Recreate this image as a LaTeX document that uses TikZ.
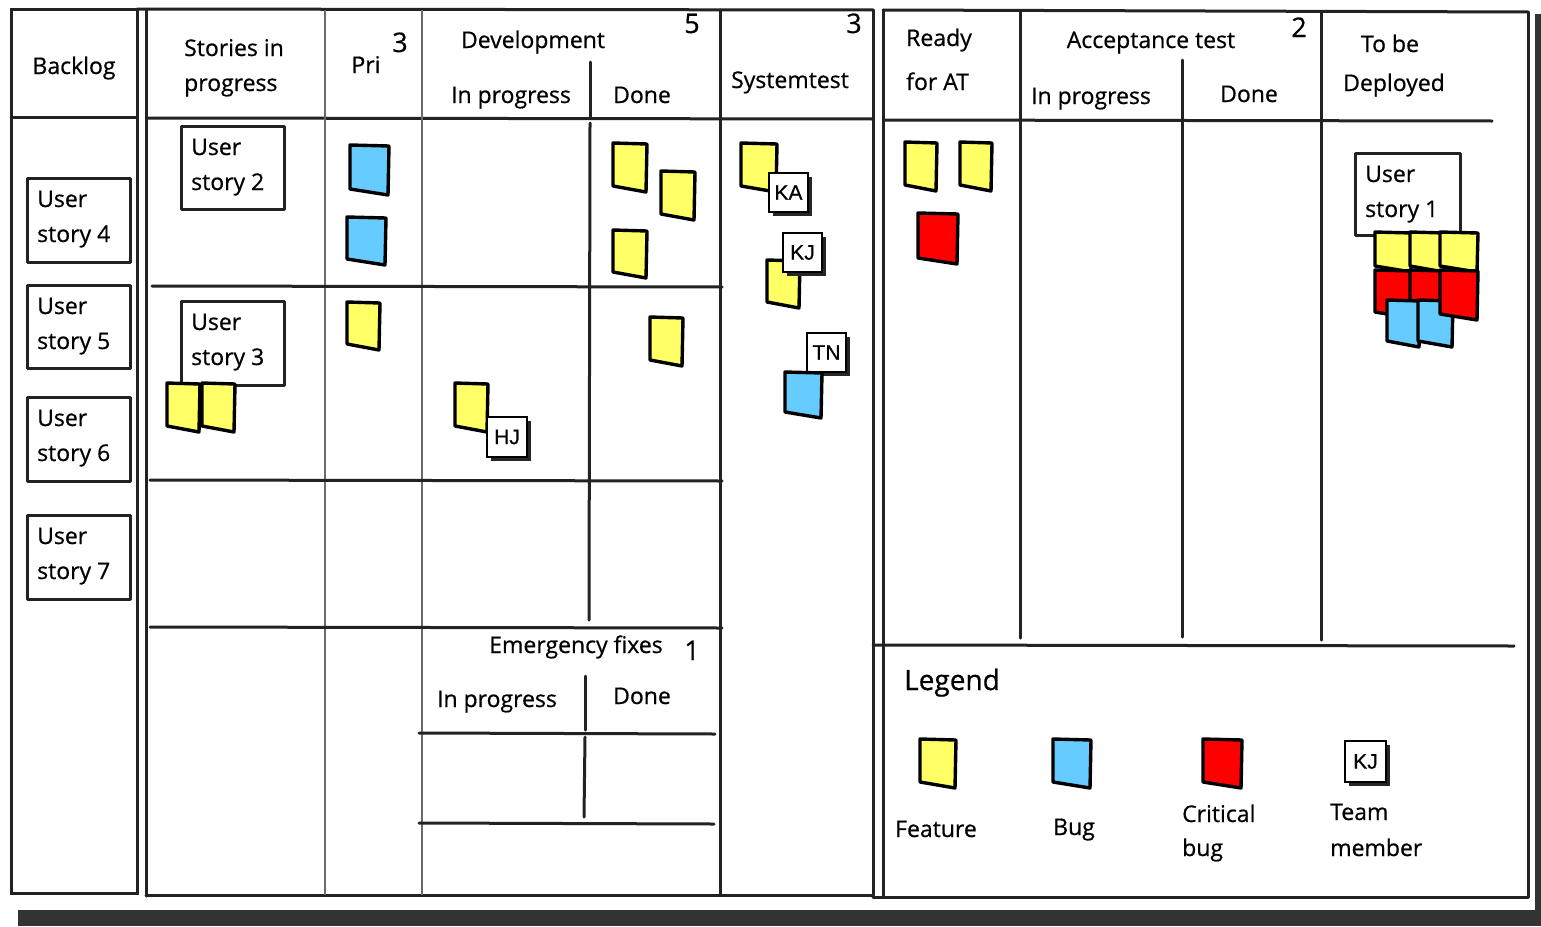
\documentclass[tikz,border=0pt]{standalone}
\usepackage{fontspec}
\setmainfont{Open Sans}[FakeBold=0.6]
\newfontfamily\tagfont{Liberation Sans}[FakeBold=0.5]
\definecolor{ink}{HTML}{222222}
\definecolor{thin}{HTML}{6A6A6A}
\definecolor{stYellow}{HTML}{FFFF66}
\definecolor{stBlue}{HTML}{66CCFF}
\definecolor{stRed}{HTML}{FF0000}
\definecolor{barc}{HTML}{333333}
\newcommand\stickynote[5]{%
  \filldraw[stickyline, fill=#5] (#1,#2) -- (#3,#2+1) -- (#3-1,#4) -- (#1,#4-6) -- cycle;}
\newcommand\member[6]{%
  \fill[black!85] (#3+4,#4+4) rectangle (#5+4,#6+4);
  \filldraw[fill=white, draw=black, line width=2.4pt] (#3,#4) rectangle (#5,#6);
  \node[tagtext] (#1) at ({(#3+#5)/2},{(#4+#6)/2}) {#2};}
\newcommand\storycard[5]{% name, number, x1, y1, (x2,y2)
  \draw[cardline] (#3,#4) rectangle #5;
  \node[lbl, anchor=base west] (#1a) at (#3+10,#4+29) {User};
  \node[lbl, anchor=base west] (#1b) at (#3+10,#4+64) {story #2};}
\begin{document}
\begin{tikzpicture}[x=1pt,y=-1pt,
  frame/.style={draw=ink, line width=3pt, line cap=round},
  thinline/.style={draw=thin, line width=1.8pt},
  lbl/.style={font=\fontsize{23}{28}\selectfont, inner sep=0pt, text=black},
  num/.style={font=\fontsize{27}{30}\selectfont, inner sep=0pt, text=black},
  cardline/.style={draw=ink, line width=3pt, fill=white, line join=round},
  stickyline/.style={draw=black, line width=3.4pt, line join=round},
  tagtext/.style={font=\tagfont\fontsize{21}{22}\selectfont, inner sep=0pt}
]
\useasboundingbox (0,0) rectangle (1541,926);
\fill[white] (0,0) rectangle (1541,926);
% dark frame strips
\fill[barc] (18,910) rectangle (1541,926);
\fill[barc] (1535,14) rectangle (1541,926);

% ---------- Backlog panel ----------
\draw[frame] (11,9) rectangle (137,893);
\draw[frame] (11,117) -- (137,117);

% ---------- Middle panel ----------
\draw[frame] (146,10) -- (146,896);
\draw[frame] (137,9) -- (873,10);
\draw[frame] (146,895) -- (873,895);
\draw[frame] (873,10) -- (873,895);
\draw[frame] (146,118) -- (873,119);
\draw[thinline] (325,10) -- (325,895);
\draw[thinline] (422,10) -- (422,895);
\draw[frame] (720,10) -- (720,895);
\draw[frame] (590,62) -- (590,118);
\draw[frame] (590,123) -- (589,620);
\draw[frame] (152,286) -- (722,287);
\draw[frame] (150,480) -- (722,481);
\draw[frame] (150,627) -- (722,628);
% emergency fixes
\draw[frame] (419,733) -- (715,734);
\draw[frame] (419,823) -- (714,824);
\draw[frame] (585,676) -- (585,730);
\draw[frame] (585,737) -- (584,817);

% ---------- Right panel ----------
\draw[frame] (883,10) -- (883,897);
\draw[frame] (883,10) -- (1528,12);
\draw[frame] (1528,12) -- (1528,897);
\draw[frame] (873,897) -- (1528,897);
\draw[frame] (884,120) -- (1492,121);
\draw[frame] (1020,12) -- (1020,638);
\draw[frame] (1321,12) -- (1321,640);
\draw[frame] (1182,60) -- (1182,637);
\draw[frame] (873,645) -- (1514,646);

% ---------- Headers ----------
\node[lbl, anchor=base] (backlog) at (74,74) {Backlog};
\node[lbl, anchor=base west] (stories1) at (184,56) {Stories in};
\node[lbl, anchor=base west] (stories2) at (184,91) {progress};
\node[lbl, anchor=base] (pri) at (366,73) {Pri};
\node[num, anchor=base] (priwip) at (400,52) {3};
\node[lbl, anchor=base] (dev) at (533,48) {Development};
\node[num, anchor=base] (devwip) at (692,33) {5};
\node[lbl, anchor=base] (devip) at (511,103) {In progress};
\node[lbl, anchor=base] (devdone) at (642,103) {Done};
\node[num, anchor=base] (syswip) at (854,33) {3};
\node[lbl, anchor=base] (sys) at (790,88) {Systemtest};
\node[lbl, anchor=base west] (ready1) at (906,46) {Ready};
\node[lbl, anchor=base west] (ready2) at (906,90) {for AT};
\node[lbl, anchor=base] (at) at (1151,48) {Acceptance test};
\node[num, anchor=base] (atwip) at (1299,37) {2};
\node[lbl, anchor=base] (atip) at (1091,104) {In progress};
\node[lbl, anchor=base] (atdone) at (1249,102) {Done};
\node[lbl, anchor=base] (deploy1) at (1390,52) {To be};
\node[lbl, anchor=base] (deploy2) at (1394,91) {Deployed};
\node[lbl, anchor=base] (emg) at (576,653) {Emergency fixes};
\node[num, anchor=base] (emgwip) at (692,660) {1};
\node[lbl, anchor=base] (emgip) at (497,707) {In progress};
\node[lbl, anchor=base] (emgdone) at (642,704) {Done};

% ---------- Story cards ----------
\storycard{us4}{4}{27}{178}{(130,262)}
\storycard{us5}{5}{27}{285}{(130,368)}
\storycard{us6}{6}{27}{397}{(130,481)}
\storycard{us7}{7}{27}{515}{(130,599)}
\storycard{us2}{2}{181}{126}{(284,209)}
\storycard{us3}{3}{181}{301}{(284,385)}
\storycard{us1}{1}{1355}{153}{(1460,235)}

% ---------- Stickies ----------
% Pri
\stickynote{350}{145}{389}{195}{stBlue}
\stickynote{347}{217}{386}{265}{stBlue}
\stickynote{347}{302}{380}{350}{stYellow}
% Stories in progress
\stickynote{167}{383}{200}{432}{stYellow}
\stickynote{202}{383}{235}{432}{stYellow}
% Development done
\stickynote{613}{143}{647}{192}{stYellow}
\stickynote{661}{171}{695}{220}{stYellow}
\stickynote{613}{230}{647}{278}{stYellow}
\stickynote{650}{317}{683}{366}{stYellow}
% Development in progress
\stickynote{455}{383}{488}{432}{stYellow}
\member{hj}{HJ}{487}{417}{527}{457}
% Systemtest
\stickynote{741}{143}{777}{192}{stYellow}
\member{ka}{KA}{769}{173}{808}{212}
\stickynote{767}{260}{800}{308}{stYellow}
\member{kj}{KJ}{783}{233}{822}{272}
\member{tn}{TN}{807}{333}{846}{372}
\stickynote{785}{372}{822}{418}{stBlue}
% Ready for AT
\stickynote{905}{142}{937}{191}{stYellow}
\stickynote{960}{142}{992}{191}{stYellow}
\stickynote{918}{213}{958}{264}{stRed}
% To be deployed
\stickynote{1375}{232}{1412}{272}{stYellow}
\stickynote{1410}{232}{1445}{272}{stYellow}
\stickynote{1440}{232}{1478}{272}{stYellow}
\stickynote{1375}{270}{1412}{318}{stRed}
\stickynote{1410}{270}{1445}{318}{stRed}
\stickynote{1387}{300}{1420}{347}{stBlue}
\stickynote{1418}{300}{1453}{347}{stBlue}
\stickynote{1440}{270}{1478}{320}{stRed}

% ---------- Legend ----------
\node[font=\fontsize{28}{32}\selectfont, inner sep=0pt, anchor=base] (legend) at (952,690) {Legend};
\stickynote{920}{739}{956}{788}{stYellow}
\stickynote{1053}{739}{1091}{788}{stBlue}
\stickynote{1203}{739}{1242}{788}{stRed}
\member{kjlegend}{KJ}{1345}{741}{1386}{782}
\node[lbl, anchor=base] (lfeature) at (936,837) {Feature};
\node[lbl, anchor=base] (lbug) at (1074,835) {Bug};
\node[lbl, anchor=base west] (lcrit1) at (1182,822) {Critical};
\node[lbl, anchor=base west] (lcrit2) at (1182,856) {bug};
\node[lbl, anchor=base west] (lteam1) at (1330,820) {Team};
\node[lbl, anchor=base west] (lteam2) at (1330,856) {member};
\end{tikzpicture}
\end{document}
